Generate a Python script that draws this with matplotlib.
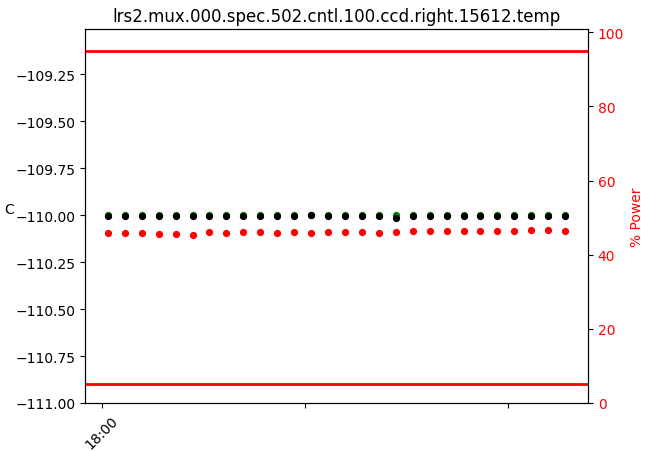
import numpy as np
import pandas as pd
import matplotlib
matplotlib.use("Agg")
import matplotlib.pyplot as plt
import matplotlib.dates as mdates

# sample times, 5 min cadence
times = pd.date_range("2024-01-01 18:01:45", periods=28, freq="5min")

# ccd temperature (C)
temp = [-110.007, -110.007, -110.007, -110.007, -110.007, -110.007, -110.007,
        -110.007, -110.007, -110.007, -110.007, -110.007, -110.002, -110.007,
        -110.007, -110.007, -110.007, -110.016, -110.003, -110.007, -110.007,
        -110.007, -110.007, -110.007, -110.007, -110.007, -110.007, -110.007]
setpoint = [-110.0] * 28

# heater power (%)
power = [45.9, 45.9, 45.9, 45.6, 45.6, 45.3, 46.1, 45.9, 46.1, 46.1,
         45.9, 46.1, 45.9, 46.1, 46.1, 46.2, 45.9, 46.1, 46.4, 46.4,
         46.4, 46.4, 46.4, 46.4, 46.4, 46.7, 46.7, 46.4]
power_limits = [5, 95]

tick_times = pd.to_datetime(["2024-01-01 18:00", "2024-01-01 19:00", "2024-01-01 20:00"])
tick_labels = ["18:00", "", ""]

fig = plt.figure(figsize=(6.53, 4.52), dpi=100)
ax = fig.add_axes([85/653, 1-404/452, (588-85)/653, (404-30)/452])

ax.plot(times, setpoint, 'o', color='green', ms=4.2, ls='none')
ax.plot(times, temp, 'o', color='black', ms=4.2, ls='none')
ax.set_ylim(-111.0, -109.01)
ax.set_ylabel("C", rotation=0)
ax.set_title("lrs2.mux.000.spec.502.cntl.100.ccd.right.15612.temp")

ax2 = ax.twinx()
ax2.plot(times, power, 'o', color='red', ms=4.2, ls='none')
for lim in power_limits:
    ax2.axhline(lim, color='red', lw=2)
ax2.set_ylim(0, 100.9)
ax2.set_ylabel("% Power", color='red')
ax2.tick_params(axis='y', labelcolor='red')

ax.set_xticks(tick_times)
ax.set_xticklabels(tick_labels, rotation=45)

fig.savefig("out.png", dpi=100)
